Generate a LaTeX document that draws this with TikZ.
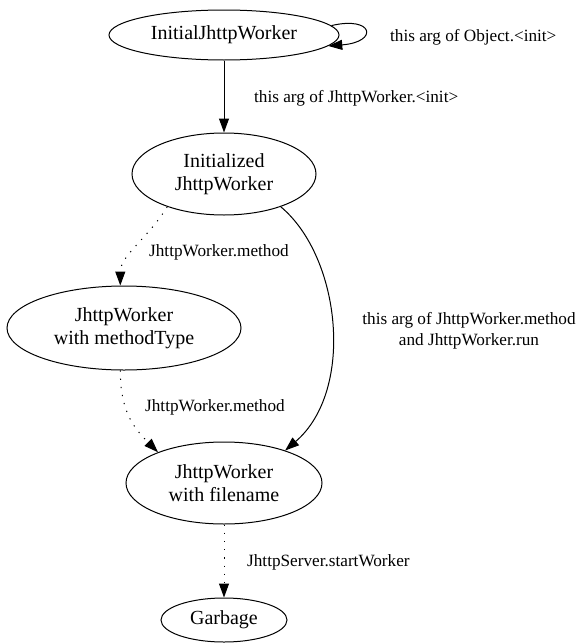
\documentclass[tikz,border=0pt]{standalone}
\usepackage{fontspec}
\setmainfont{Liberation Serif}
\usetikzlibrary{shapes.geometric,arrows.meta}
\tikzset{
  state/.style={draw,ellipse,line width=1pt,inner sep=0pt,align=center,font=\fontsize{20}{23}\selectfont},
  edgelabel/.style={inner sep=0pt,align=center,font=\fontsize{17.2}{21}\selectfont},
  trans/.style={line width=1pt,-{Triangle[length=14pt,width=10pt]}},
  weak/.style={trans,dash pattern=on 1.2pt off 7pt}
}
\begin{document}
\begin{tikzpicture}[x=1pt,y=-1pt]
\useasboundingbox (0,0) rectangle (581,643);
\node[state,minimum width=230pt,minimum height=50pt] (initial) at (224,35) {InitialJhttpWorker};
\node[state,minimum width=184pt,minimum height=82pt] (initd) at (224,174) {Initialized\\JhttpWorker};
\node[state,minimum width=234pt,minimum height=84pt] (mtype) at (124,328) {JhttpWorker\\with methodType};
\node[state,minimum width=196pt,minimum height=82pt] (fname) at (224,483) {JhttpWorker\\with filename};
\node[state,minimum width=126pt,minimum height=44pt] (garbage) at (224,620) {Garbage};
\draw[trans] (initial.5) .. controls +(42,-10) and +(51,-4) .. (initial.-6);
\draw[trans] (initial) -- (initd);
\draw[weak] (initd.210) .. controls +(-18,30) and +(0,-30) .. (mtype.95);
\draw[weak] (mtype.265) .. controls +(0,40) and +(-25,-25) .. (fname.155);
\draw[trans] (initd.330) .. controls +(60,50) and +(70,-60) .. (fname.28);
\draw[weak] (fname) -- (garbage);
\node[edgelabel,anchor=west] (lobject) at (390,37) {this arg of Object.<init>};
\node[edgelabel,anchor=west] (linit) at (254,98) {this arg of JhttpWorker.<init>};
\node[edgelabel,anchor=west] (lmethoda) at (149,252) {JhttpWorker.method};
\node[edgelabel,anchor=west] (lmethodb) at (145,407) {JhttpWorker.method};
\node[edgelabel] (lrun) at (469,331) {this arg of JhttpWorker.method\\and JhttpWorker.run};
\node[edgelabel,anchor=west] (lstart) at (247,562) {JhttpServer.startWorker};
\end{tikzpicture}
\end{document}
